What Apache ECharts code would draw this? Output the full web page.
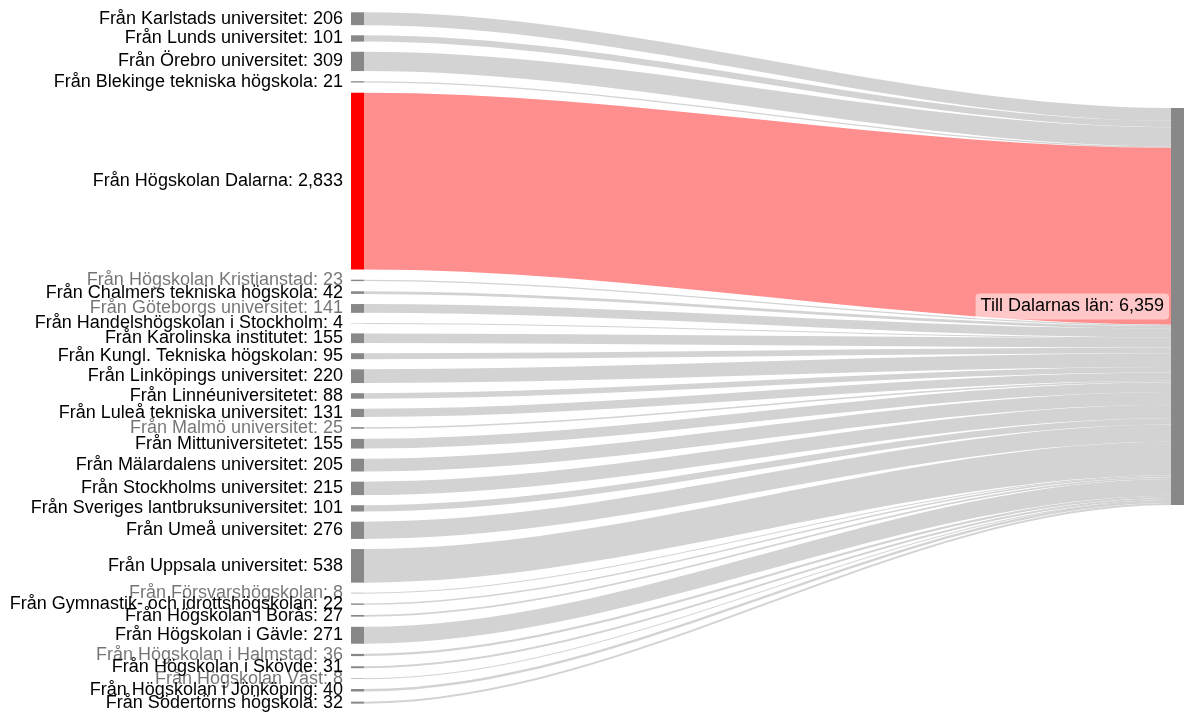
<!DOCTYPE html>
<html>
<head>
<meta charset="utf-8">
<script src="https://cdn.jsdelivr.net/npm/echarts@6/dist/echarts.min.js"></script>
<style>
html,body{margin:0;padding:0;background:#fff;}
#chart{width:1190px;height:713px;}
</style>
</head>
<body>
<div id="chart"></div>
<script>
// ---- Data ----
const sourceNames = [
  'Från Karlstads universitet',
  'Från Lunds universitet',
  'Från Örebro universitet',
  'Från Blekinge tekniska högskola',
  'Från Högskolan Dalarna',
  'Från Högskolan Kristianstad',
  'Från Chalmers tekniska högskola',
  'Från Göteborgs universitet',
  'Från Handelshögskolan i Stockholm',
  'Från Karolinska institutet',
  'Från Kungl. Tekniska högskolan',
  'Från Linköpings universitet',
  'Från Linnéuniversitetet',
  'Från Luleå tekniska universitet',
  'Från Malmö universitet',
  'Från Mittuniversitetet',
  'Från Mälardalens universitet',
  'Från Stockholms universitet',
  'Från Sveriges lantbruksuniversitet',
  'Från Umeå universitet',
  'Från Uppsala universitet',
  'Från Försvarshögskolan',
  'Från Gymnastik- och idrottshögskolan',
  'Från Högskolan i Borås',
  'Från Högskolan i Gävle',
  'Från Högskolan i Halmstad',
  'Från Högskolan i Skövde',
  'Från Högskolan Väst',
  'Från Högskolan i Jönköping',
  'Från Södertörns högskola'
];
const sourceValues = [
  206, 101, 309, 21, 2833, 23, 42, 141, 4, 155,
  95, 220, 88, 131, 25, 155, 205, 215, 101, 276,
  538, 8, 22, 27, 271, 36, 31, 8, 40, 32
];
const targetName = 'Till Dalarnas län';
const highlightedSource = 'Från Högskolan Dalarna';

// ---- Styles ----
const fadedLabels = [
  'Från Högskolan Kristianstad',
  'Från Göteborgs universitet',
  'Från Malmö universitet',
  'Från Försvarshögskolan',
  'Från Högskolan i Halmstad',
  'Från Högskolan Väst'
];
const FONT = '"Liberation Sans", Arial, sans-serif';
const fmt = v => String(v).replace(/\B(?=(\d{3})+(?!\d))/g, ',');

const total = sourceValues.reduce((a, b) => a + b, 0);

const nodes = sourceNames.map((name, i) => ({
  name: name,
  value: sourceValues[i],
  depth: 0,
  itemStyle: { color: name === highlightedSource ? '#ff0000' : '#888888' },
  label: {
    position: 'left',
    distance: 8,
    color: fadedLabels.indexOf(name) >= 0 ? 'rgba(0,0,0,0.55)' : '#000000'
  }
}));
nodes.push({
  name: targetName,
  value: total,
  depth: 1,
  localY: 0.13843,
  itemStyle: { color: '#888888' },
  label: {
    position: 'left',
    distance: 2,
    color: '#000000',
    backgroundColor: 'rgba(255,255,255,0.5)',
    borderRadius: 4,
    padding: [3, 5],
    lineHeight: 20
  }
});

const links = sourceNames.map((name, i) => ({
  source: name,
  target: targetName,
  value: sourceValues[i],
  lineStyle: { color: name === highlightedSource ? '#ff8f8f' : '#d3d3d3', opacity: 1 }
}));

const chart = echarts.init(document.getElementById('chart'), null, { renderer: 'canvas' });
chart.setOption({
  animation: false,
  backgroundColor: '#ffffff',
  series: [{
    type: 'sankey',
    left: 351,
    right: 6,
    top: 12.3,
    bottom: 9.35,
    nodeWidth: 13,
    nodeGap: 10.15,
    layoutIterations: 0,
    draggable: false,
    emphasis: { disabled: true },
    label: {
      show: true,
      fontFamily: FONT,
      fontSize: 18,
      color: '#000',
      formatter: p => p.name + ': ' + fmt(p.value)
    },
    itemStyle: { borderWidth: 0 },
    lineStyle: { curveness: 0.33, opacity: 1 },
    data: nodes,
    links: links
  }]
});
</script>
</body>
</html>
